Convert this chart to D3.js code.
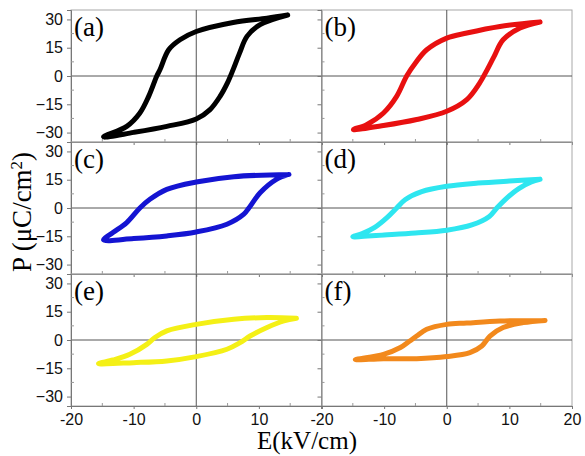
<!DOCTYPE html>
<html>
<head>
<meta charset="utf-8">
<script src="https://cdn.jsdelivr.net/npm/d3@7"></script>
<style>
  body { margin: 0; background: #fff; }
  svg { display: block; }
</style>
</head>
<body>
<svg id="chart"></svg>
<script>
// P-E loops, points, [E (kV/cm), P (uC/cm2)], going round the loop
let loopA = [[14.6,32.3],[11.3,30.7],[5.9,28.4],[0,23.6],[-2.6,19.2],[-4.4,13.9],[-5.8,3.3],[-6.3,0],[-7.6,-10.8],[-9,-19.6],[-11.1,-26.7],[-14.8,-32.3],
             [-10,-29.9],[-4.7,-26.7],[0,-22.8],[2.2,-17.8],[3.8,-10.8],[5,-3.5],[5.9,3.5],[6.9,12],[8.1,21],[10.2,27.2],[14.6,32.3]]
let loopB = [[14.9,28.6],[8.5,26.3],[3.2,22.8],[0,20.1],[-3.2,13.9],[-5,6.9],[-6.4,0],[-8,-10.8],[-10.1,-19.6],[-12.8,-25.8],[-14.9,-28.4],
             [-10.1,-26.3],[-4.8,-23.1],[0,-18.7],[3.2,-12.5],[5.2,-4],[6.4,3],[7.5,10],[9,19.2],[11.7,25.4],[14.9,28.6]]
let loopC = [[14.8,17.8],[6,16.6],[0,13.8],[-4.7,9.9],[-7.4,4.6],[-9,0],[-11.1,-7.7],[-13.3,-13],[-14.8,-16.9],
             [-10,-16.2],[-4.7,-14.8],[0,-12.7],[4.9,-8.6],[7.6,-3.3],[8.4,0],[10.2,8.1],[12.8,15.2],[14.8,17.8]]
let loopD = [[14.9,15.2],[10,14.3],[5,13.2],[0,11.5],[-4,8.7],[-6.6,4.5],[-8,0],[-9.5,-5],[-11.5,-10.3],[-13.5,-13.6],[-15,-15.2],
             [-10,-14.3],[-5,-13.3],[0,-11.8],[4,-9],[6.8,-4.5],[8,0],[9.5,5],[11.5,10.3],[13.5,13.8],[14.9,15.2]]
let loopE = [[16,11.5],[11.3,11.9],[6,11],[0,8.3],[-4.7,4.8],[-6.6,1.3],[-7.9,-2.3],[-10.6,-7.6],[-13.3,-10.6],[-15.6,-12.5],
             [-10,-12],[-4.7,-11.1],[0,-8.8],[4.9,-4.9],[7,-1.4],[8.6,2.1],[11.3,6.6],[14,10.1],[16,11.5]]
let loopF = [[15.7,10.4],[8.5,10.1],[3.2,9],[0,8.3],[-3.2,5.7],[-4.8,2.1],[-5.9,-0.5],[-7.4,-4],[-10.1,-7.6],[-14.6,-10.4],
             [-10.1,-9.9],[-4.8,-9.9],[0,-8.8],[3.7,-6.7],[5.6,-3.2],[6.9,2.1],[9,6.6],[12.2,9.2],[15.7,10.4]]

let panelNames = ['(a)', '(b)', '(c)', '(d)', '(e)', '(f)']
let loops = [loopA, loopB, loopC, loopD, loopE, loopF]
let colors = ['#000000', '#e81010', '#1414d2', '#2ee6f0', '#f4f016', '#f2891c']

let xTicks = [-20, -10, 0, 10, 20]
let yTicks = [-30, -15, 0, 15, 30]

let width = 585
let height = 456
let marginLeft = 71
let marginTop = 10
let panelW = 250.5
let panelH = 132

let sansFont = "'Liberation Sans', Arial, sans-serif"
let serifFont = "'Liberation Serif', 'Times New Roman', serif"

let svg = d3.select('#chart')
    .attr('width', width)
    .attr('height', height)

let xScale = d3.scaleLinear().domain([-20, 20]).range([0, panelW])
let yScale = d3.scaleLinear().domain([-35, 35]).range([panelH, 0])

let line = d3.line()
    .x(d => xScale(d[0]))
    .y(d => yScale(d[1]))
    .curve(d3.curveCatmullRom.alpha(0.5))

loops.forEach((loop, i) => {
    let col = i % 2
    let row = Math.floor(i / 2)
    let g = svg.append('g')
        .attr('transform', 'translate(' + (marginLeft + col * panelW) + ',' + (marginTop + row * panelH) + ')')

    // frame
    g.append('rect')
        .attr('width', panelW)
        .attr('height', panelH)
        .attr('fill', 'none')
        .attr('stroke', '#a8a8a8')
        .attr('stroke-width', 1)

    // zero lines
    g.append('line')
        .attr('x1', xScale(0)).attr('x2', xScale(0))
        .attr('y1', 0).attr('y2', panelH)
        .attr('stroke', '#555').attr('stroke-width', 1)
    g.append('line')
        .attr('x1', 0).attr('x2', panelW)
        .attr('y1', yScale(0)).attr('y2', yScale(0))
        .attr('stroke', '#555').attr('stroke-width', 1)

    // left axis
    let yAxis = d3.axisLeft(yScale)
        .tickValues(yTicks)
        .tickSize(4)
        .tickFormat(col === 0 ? d3.format('d') : '')
    let ya = g.append('g').call(yAxis)
    ya.select('.domain').attr('stroke', '#777')
    ya.selectAll('.tick line').attr('stroke', '#777')
    ya.selectAll('text')
        .attr('font-family', sansFont)
        .attr('font-size', 16)
        .attr('fill', '#111')
        .attr('dx', '-1')

    // minor y ticks
    g.selectAll('.ymin')
        .data(d3.range(-30, 31, 7.5).filter(v => v % 15 !== 0))
        .enter().append('line')
        .attr('x1', 0).attr('x2', 3)
        .attr('y1', d => yScale(d)).attr('y2', d => yScale(d))
        .attr('stroke', '#999')

    // bottom axis
    let xAxis = d3.axisBottom(xScale)
        .tickValues(xTicks)
        .tickSize(3)
        .tickFormat(row === 2 ? (d => (col === 0 && d === 20) ? '' : d) : '')
    let xa = g.append('g')
        .attr('transform', 'translate(0,' + panelH + ')')
        .call(xAxis)
    xa.select('.domain').attr('stroke', '#777')
    xa.selectAll('.tick line').attr('stroke', '#777')
    xa.selectAll('text')
        .attr('font-family', sansFont)
        .attr('font-size', 16)
        .attr('fill', '#111')
        .attr('dy', '0.8em')

    // minor x ticks
    g.selectAll('.xmin')
        .data([-15, -5, 5, 15])
        .enter().append('line')
        .attr('x1', d => xScale(d)).attr('x2', d => xScale(d))
        .attr('y1', panelH).attr('y2', panelH - 3)
        .attr('stroke', '#999')

    // the loop
    g.append('path')
        .datum(loop)
        .attr('d', line)
        .attr('fill', 'none')
        .attr('stroke', colors[i])
        .attr('stroke-width', 5)
        .attr('stroke-linejoin', 'round')
        .attr('stroke-linecap', 'round')

    g.append('text')
        .attr('x', 3)
        .attr('y', 26)
        .attr('font-family', serifFont)
        .attr('font-size', 27)
        .attr('fill', '#000')
        .text(panelNames[i])
})

// axis titles
svg.append('text')
    .attr('x', 307)
    .attr('y', 449)
    .attr('text-anchor', 'middle')
    .attr('font-family', serifFont)
    .attr('font-size', 25)
    .text('E(kV/cm)')

let yTitle = svg.append('text')
    .attr('transform', 'translate(31,212) rotate(-90)')
    .attr('text-anchor', 'middle')
    .attr('font-family', serifFont)
    .attr('font-size', 27)
yTitle.append('tspan').text('P (\u03bcC/cm')
yTitle.append('tspan').attr('baseline-shift', 'super').attr('font-size', 17).text('2')
yTitle.append('tspan').text(')')
</script>
</body>
</html>
